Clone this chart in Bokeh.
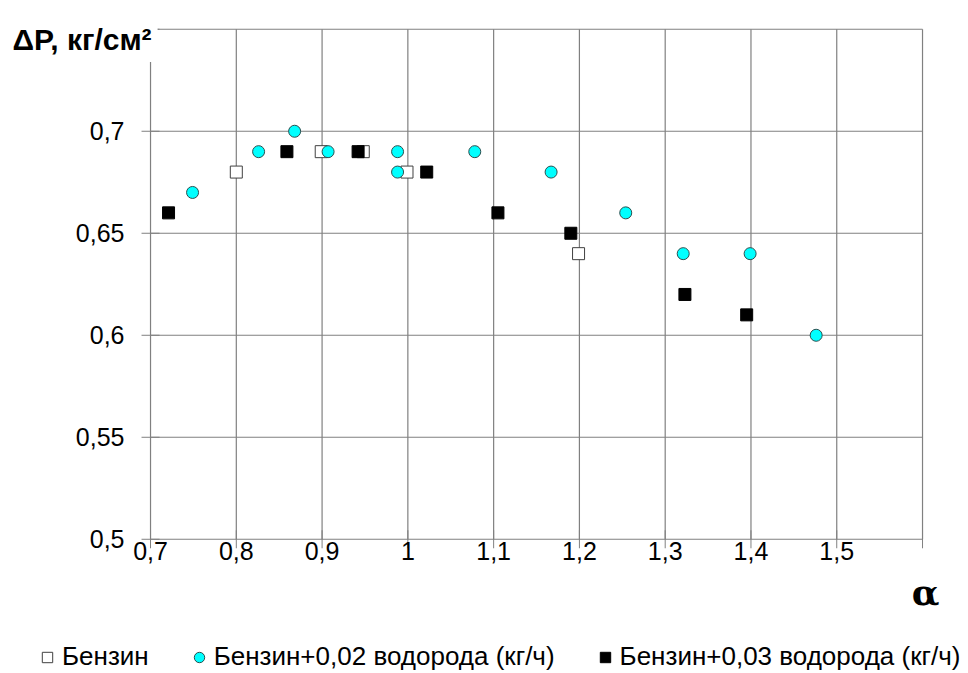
import math
from bokeh.plotting import figure
from bokeh.models import Range1d, Legend, LegendItem, Label
from bokeh.core.properties import value
from bokeh.embed import file_html
from bokeh.resources import INLINE

# ---- data ----
benzin_x = [0.800, 0.899, 0.948, 0.999, 1.199]
benzin_y = [0.68, 0.69, 0.69, 0.68, 0.64]

h02_x = [0.749, 0.826, 0.868, 0.907, 0.988, 0.988, 1.078, 1.167, 1.254, 1.321, 1.399, 1.476]
h02_y = [0.67, 0.69, 0.70, 0.69, 0.69, 0.68, 0.69, 0.68, 0.66, 0.64, 0.64, 0.60]

h03_x = [0.721, 0.859, 0.942, 1.022, 1.105, 1.190, 1.323, 1.395]
h03_y = [0.66, 0.69, 0.69, 0.68, 0.66, 0.65, 0.62, 0.61]

x_ticks = [0.7, 0.8, 0.9, 1.0, 1.1, 1.2, 1.3, 1.4, 1.5, 1.6]
y_ticks = [0.5, 0.55, 0.6, 0.65, 0.7, 0.75]

label_series = ["Бензин", "Бензин+0,02 водорода (кг/ч)", "Бензин+0,03 водорода (кг/ч)"]
y_title = "ΔP, кг/см²"
x_title = "α"

FONT = "Liberation Sans"
GRID = "#808080"


def fmt(v):
    return f"{v:g}".replace(".", ",")


x_labels = [fmt(v) for v in x_ticks[:-1]]
y_labels = [fmt(v) for v in y_ticks[:-1]]

# the drawing area covers the whole canvas; ranges chosen so that the
# chart box (0.7..1.6 x 0.5..0.75) sits where it is in the reference
p = figure(width=968, height=673, min_border=0,
           x_range=Range1d(0.5251, 1.6536), y_range=Range1d(0.4342, 0.7641),
           x_axis_location=None, y_axis_location=None,
           output_backend="svg", toolbar_location=None,
           background_fill_color="white", border_fill_color="white")
p.outline_line_color = None
p.grid.visible = False
p.title.visible = False

nx, ny = len(x_ticks), len(y_ticks)
# grid lines (incl. frame edges)
p.segment(x0=x_ticks, y0=[y_ticks[0]] * nx, x1=x_ticks, y1=[y_ticks[-1]] * nx,
          line_color=GRID, line_width=1.2)
p.segment(x0=[x_ticks[0]] * ny, y0=y_ticks, x1=[x_ticks[-1]] * ny, y1=y_ticks,
          line_color=GRID, line_width=1.2)
# tick marks (outer halves visible)
p.scatter(x=x_ticks, y=[y_ticks[0]] * nx, marker="dash", angle=math.pi / 2,
          size=18, line_color=GRID, line_width=1)
p.scatter(x=[x_ticks[0]] * ny, y=y_ticks, marker="dash",
          size=18, line_color=GRID, line_width=1)
# tick labels
p.text(x=x_ticks[:-1], y=[y_ticks[0]] * (nx - 1), text=x_labels,
       text_align="center", text_baseline="top", y_offset=3,
       text_font=value(FONT), text_font_size=value("25px"), text_color="black")
p.text(x=[x_ticks[0]] * (ny - 1), y=y_ticks[:-1], text=y_labels,
       text_align="right", text_baseline="middle", x_offset=-26,
       text_font=value(FONT), text_font_size=value("25px"), text_color="black")

# series
r1 = p.scatter(benzin_x, benzin_y, marker="square", size=12,
               fill_color="white", line_color="#404040", line_width=1)
r2 = p.scatter(h02_x, h02_y, marker="circle", size=12,
               fill_color="#00FFFF", line_color="#2b4f4f", line_width=1)
r3 = p.scatter(h03_x, h03_y, marker="square", size=12,
               fill_color="black", line_color="black", line_width=1)

# y title (white box hides the frame corner)
p.add_layout(Label(x=6, y=634, x_units="screen", y_units="screen",
                   text=y_title, text_font=FONT, text_font_style="bold",
                   text_font_size="30px", text_color="black",
                   text_baseline="alphabetic", text_align="left",
                   background_fill_color="white", padding=6))
# x title
p.add_layout(Label(x=925, y=82, x_units="screen", y_units="screen",
                   text=x_title, text_font="DejaVu Serif",
                   text_font_style="bold", text_font_size="36px",
                   text_color="black", text_baseline="alphabetic",
                   text_align="center"))

# legend at the bottom
legend = Legend(items=[LegendItem(label=t, renderers=[r])
                       for t, r in zip(label_series, (r1, r2, r3))],
                location=(34, 1), orientation="horizontal",
                border_line_color=None, background_fill_alpha=0,
                padding=0, margin=0, spacing=37,
                glyph_width=26, glyph_height=26, label_standoff=2,
                label_text_font=FONT, label_text_font_size="26px",
                label_text_color="black")
p.add_layout(legend, "center")

open("out.html", "w").write(file_html(p, INLINE))
